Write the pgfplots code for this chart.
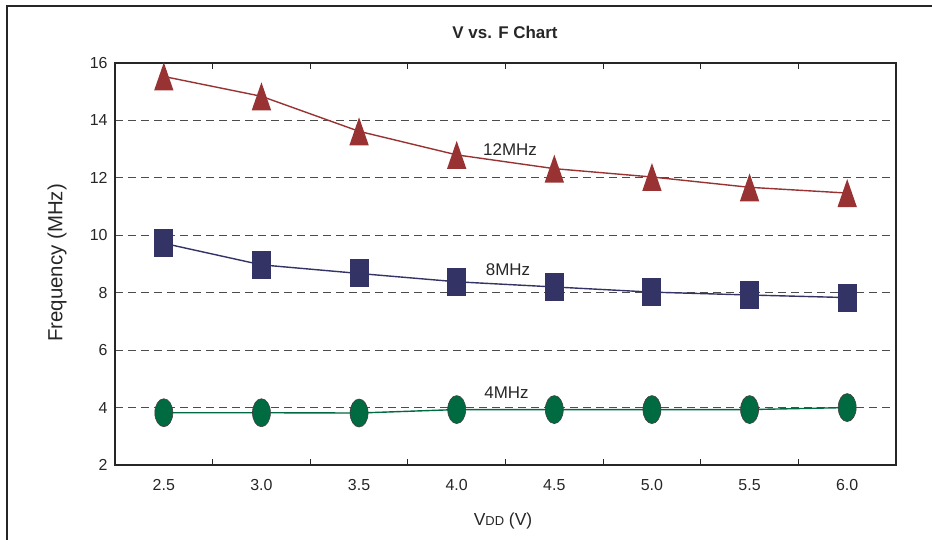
\documentclass[border=0pt]{standalone}
\usepackage{pgfplots}
\pgfplotsset{compat=1.18}
\usepackage{fontspec}
\setmainfont{Liberation Sans}
\definecolor{cred}{HTML}{993333}
\definecolor{cblue}{HTML}{333366}
\definecolor{cgreen}{HTML}{006A40}
\pgfdeclareplotmark{mytri}{%
  \pgfpathmoveto{\pgfpoint{0bp}{14bp}}%
  \pgfpathlineto{\pgfpoint{-9.7bp}{-14bp}}%
  \pgfpathlineto{\pgfpoint{9.7bp}{-14bp}}%
  \pgfpathclose\pgfusepathqfill}
\pgfdeclareplotmark{mysq}{%
  \pgfpathrectangle{\pgfpoint{-9.5bp}{-14bp}}{\pgfpoint{19bp}{28bp}}%
  \pgfusepathqfill}
\pgfdeclareplotmark{myell}{%
  \pgfpathellipse{\pgfpointorigin}{\pgfpoint{9bp}{0bp}}{\pgfpoint{0bp}{14bp}}%
  \pgfusepathqfillstroke}
\begin{document}
\begin{tikzpicture}[x=1bp,y=1bp]
\useasboundingbox (0,0) rectangle (932,540);
\draw[line width=1.5bp, black!85] (7,-10) -- (7,534) -- (945,534);
\begin{axis}[
  at={(115bp,75bp)}, anchor=south west,
  scale only axis, width=781bp, height=402bp,
  xmin=2.25, xmax=6.25, ymin=2, ymax=16,
  xtick={2.5,3,3.5,4,4.5,5,5.5,6},
  xticklabels={2.5,3.0,3.5,4.0,4.5,5.0,5.5,6.0},
  minor xtick={2.75,3.25,3.75,4.25,4.75,5.25,5.75},
  ytick={2,4,6,8,10,12,14,16},
  /pgf/number format/assume math mode=true,
  major tick length=0pt, minor tick length=6bp,
  minor tick style={line width=0.8bp, black!85},
  axis line style={line width=1.5bp, black!85},
  ymajorgrids,
  grid style={dash pattern=on 8bp off 5bp, black!70, line width=0.8bp},
  tick label style={font=\fontsize{16}{18}\selectfont, black!85},
  xticklabel style={yshift=-11bp},
  yticklabel style={xshift=-4bp},
  clip=false,
]
\addplot[cred, line width=1.4bp, mark=mytri] coordinates {
(2.5,15.53) (3.0,14.84) (3.5,13.62) (4.0,12.8) (4.5,12.32) (5.0,12.03) (5.5,11.67) (6.0,11.47)};
\addplot[cblue, line width=1.4bp, mark=mysq] coordinates {
(2.5,9.72) (3.0,8.97) (3.5,8.67) (4.0,8.38) (4.5,8.2) (5.0,8.02) (5.5,7.92) (6.0,7.83)};
\addplot[cgreen, line width=1.4bp, mark=myell, mark options={draw=black!75, fill=cgreen, line width=0.6bp}] coordinates {
(2.5,3.82) (3.0,3.82) (3.5,3.81) (4.0,3.93) (4.5,3.93) (5.0,3.93) (5.5,3.93) (6.0,4.0)};
\node[font=\fontsize{17}{19}\selectfont, black!85] at (axis cs:4.273,13.0) {12MHz};
\node[font=\fontsize{17}{19}\selectfont, black!85] at (axis cs:4.263,8.79) {8MHz};
\node[font=\fontsize{17}{19}\selectfont, black!85] at (axis cs:4.255,4.52) {4MHz};
\end{axis}
\node[font=\bfseries\fontsize{17}{19}\selectfont, black!85] at (505,508) {V vs. F Chart};
\node[font=\fontsize{20.5}{23}\selectfont, black!85, rotate=90] at (57,277) {Frequency (MHz)};
\node[font=\fontsize{17.5}{20}\selectfont, black!85] at (503,19) {V{\fontsize{13}{15}\selectfont DD} (V)};
\end{tikzpicture}
\end{document}
